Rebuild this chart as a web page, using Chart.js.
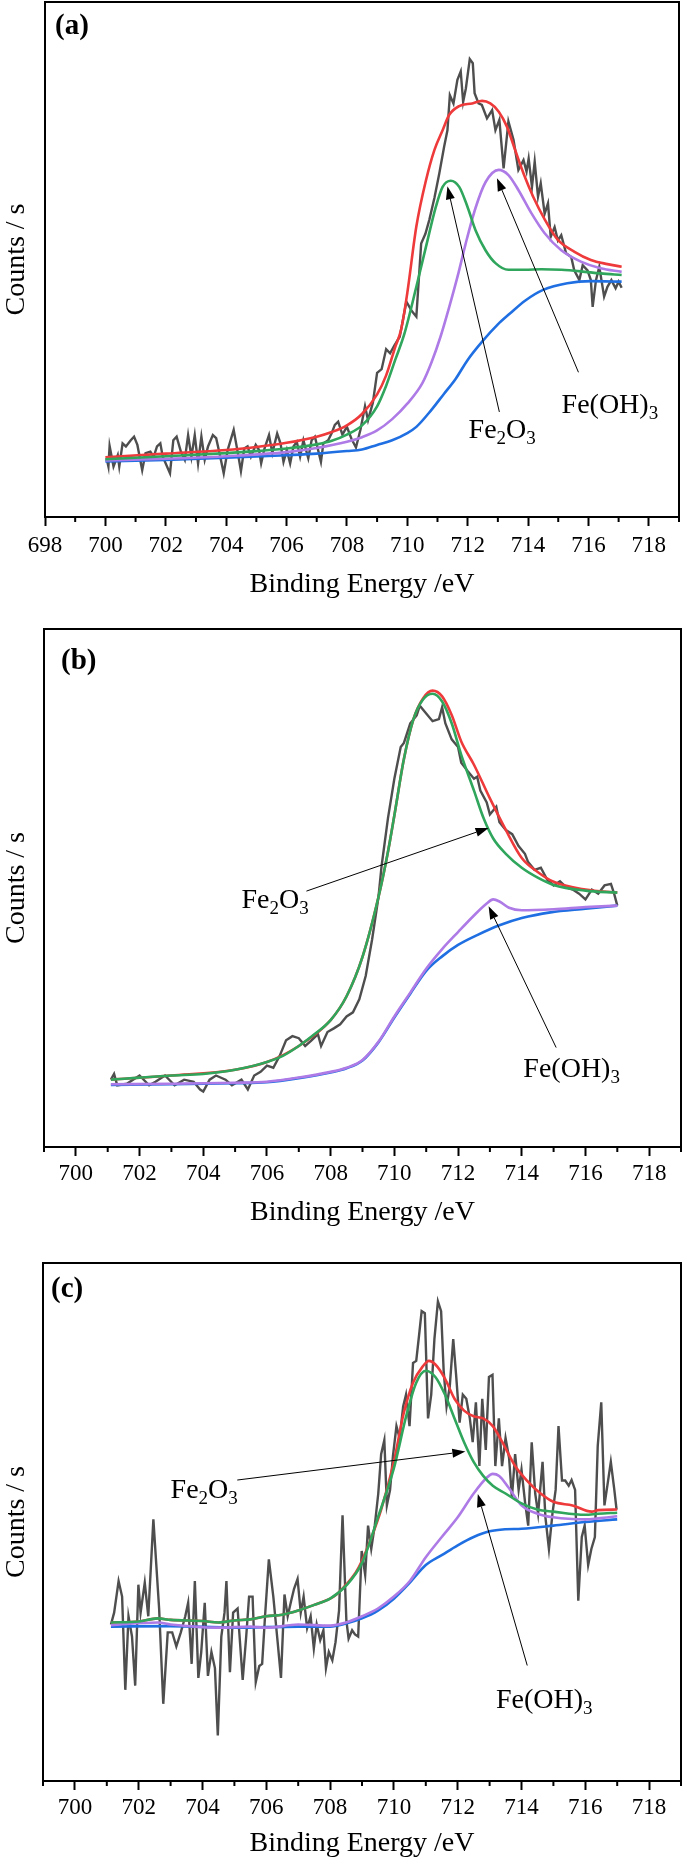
<!DOCTYPE html>
<html>
<head>
<meta charset="utf-8">
<script src="https://cdn.jsdelivr.net/npm/chart.js@4.4.1/dist/chart.umd.min.js"></script>
<style>
body { margin: 0; background: #fff; }
canvas { display: block; }
</style>
</head>
<body>
<canvas id="chart_a" width="685" height="620"></canvas>
<canvas id="chart_b" width="685" height="620"></canvas>
<canvas id="chart_c" width="685" height="620"></canvas>
<script>
// ---- Panel (a) ----
var a_raw_e = [700.04, 700.1, 700.14, 700.27, 700.41, 700.46, 700.57, 700.68, 700.84, 700.95, 701.06, 701.22, 701.33, 701.49, 701.6, 701.71, 701.82, 701.9, 702.14, 702.25, 702.36, 702.5, 702.63, 702.74, 702.85, 702.96, 703.07, 703.18, 703.29, 703.4, 703.56, 703.67, 703.78, 703.92, 704.05, 704.25, 704.38, 704.49, 704.6, 704.71, 704.82, 704.98, 705.09, 705.16, 705.27, 705.42, 705.53, 705.69, 705.8, 705.9, 706.01, 706.12, 706.23, 706.34, 706.45, 706.56, 706.72, 706.83, 706.94, 707.14, 707.22, 707.38, 707.49, 707.6, 707.71, 707.85, 708.0, 708.15, 708.3, 708.45, 708.6, 708.7, 708.86, 709.0, 709.15, 709.3, 709.43, 709.57, 709.75, 709.97, 710.15, 710.3, 710.46, 710.6, 710.73, 710.9, 711.06, 711.22, 711.33, 711.41, 711.53, 711.66, 711.77, 711.85, 711.94, 712.07, 712.17, 712.23, 712.36, 712.47, 712.64, 712.81, 712.92, 713.05, 713.19, 713.35, 713.52, 713.68, 713.85, 713.95, 714.02, 714.13, 714.22, 714.33, 714.42, 714.55, 714.66, 714.75, 714.88, 714.99, 715.1, 715.26, 715.43, 715.53, 715.7, 715.81, 715.97, 716.08, 716.14, 716.25, 716.36, 716.52, 716.63, 716.76, 716.9, 717.0, 717.1];
var a_raw_i = [11.4, 9.8, 13.8, 9.8, 12.0, 9.8, 14.3, 13.7, 14.9, 15.6, 14.0, 9.1, 12.4, 12.7, 11.7, 13.7, 14.3, 11.7, 8.5, 14.9, 15.6, 12.7, 11.1, 15.9, 11.7, 15.9, 10.4, 15.6, 11.1, 13.7, 15.9, 15.3, 12.4, 8.5, 13.0, 16.9, 12.7, 8.9, 13.3, 13.7, 11.7, 14.0, 13.0, 10.4, 13.3, 15.9, 12.4, 16.2, 14.3, 10.7, 13.0, 10.4, 13.7, 14.6, 11.7, 14.9, 11.4, 14.9, 15.6, 10.7, 14.3, 14.9, 16.2, 17.9, 18.5, 16.0, 17.5, 15.2, 13.5, 17.0, 21.5, 18.8, 22.2, 28.0, 28.7, 32.6, 31.8, 33.3, 35.0, 41.8, 40.0, 38.9, 53.1, 55.0, 57.7, 62.0, 66.7, 71.9, 75.1, 81.9, 80.3, 84.9, 86.5, 80.6, 83.2, 88.9, 88.1, 82.3, 80.3, 80.0, 77.4, 79.0, 75.1, 77.1, 67.7, 76.8, 73.2, 67.4, 69.3, 67.1, 69.6, 64.1, 69.0, 62.2, 64.8, 58.9, 60.9, 54.4, 56.3, 53.7, 54.7, 51.2, 50.5, 47.9, 46.0, 48.9, 47.9, 46.0, 40.8, 46.0, 48.6, 42.8, 44.7, 46.0, 44.4, 45.7, 44.5];
var a_env_e = [700.0, 702.0, 704.0, 705.0, 706.0, 707.0, 707.5, 708.0, 708.5, 709.0, 709.3, 709.6, 709.8, 710.0, 710.3, 710.62, 710.9, 711.17, 711.39, 711.72, 712.15, 712.48, 712.75, 713.03, 713.3, 713.57, 713.85, 714.17, 714.56, 714.99, 715.54, 716.08, 716.63, 717.1];
var a_env_i = [11.6, 12.3, 13.0, 13.6, 14.4, 15.6, 16.5, 17.8, 20.0, 23.8, 27.5, 33.0, 36.5, 43.5, 56.4, 65.4, 71.3, 75.1, 78.1, 79.8, 80.3, 80.8, 80.3, 78.7, 75.8, 71.3, 66.7, 62.2, 57.7, 53.8, 51.5, 49.9, 49.1, 48.6];
var a_fe2o3_e = [700.0, 702.0, 704.0, 705.0, 706.0, 707.0, 707.5, 708.0, 708.5, 709.0, 709.3, 709.6, 709.9, 710.3, 710.62, 710.95, 711.17, 711.44, 711.72, 711.99, 712.26, 712.59, 712.92, 713.35, 713.9, 714.44, 715.1, 715.75, 716.4, 717.1];
var a_fe2o3_i = [11.2, 11.8, 12.4, 12.8, 13.3, 14.1, 14.8, 16.0, 17.8, 21.5, 25.5, 30.5, 35.5, 44.7, 52.5, 60.3, 64.1, 65.3, 64.1, 60.3, 55.7, 51.8, 49.3, 48.0, 48.0, 48.1, 48.0, 47.7, 47.3, 47.0];
var a_feoh3_e = [700.0, 702.0, 704.0, 706.0, 707.0, 708.0, 708.5, 709.0, 709.5, 710.0, 710.5, 710.8, 711.1, 711.4, 711.7, 711.93, 712.26, 712.59, 713.03, 713.35, 713.68, 714.11, 714.55, 715.1, 715.75, 716.4, 717.1];
var a_feoh3_i = [11.0, 11.3, 11.8, 12.6, 13.4, 14.6, 15.5, 16.8, 19.0, 22.0, 26.0, 30.0, 35.0, 41.0, 47.5, 53.0, 60.0, 65.0, 67.4, 66.4, 63.5, 59.0, 55.1, 51.8, 49.6, 48.3, 47.6];
var a_bg_e = [700.0, 702.0, 704.0, 706.0, 707.0, 708.0, 708.5, 709.0, 709.5, 710.0, 710.3, 710.8, 711.2, 711.6, 712.0, 712.5, 713.0, 713.4, 713.9, 714.5, 715.3, 716.1, 717.1];
var a_bg_i = [10.8, 11.1, 11.5, 12.0, 12.3, 12.8, 13.1, 14.0, 14.9, 16.3, 17.5, 20.8, 23.8, 26.8, 30.5, 34.2, 37.4, 39.5, 42.0, 44.1, 45.4, 45.8, 45.7];

// ---- Panel (b) ----
var b_raw_e = [701.1, 701.2, 701.3, 701.6, 702.0, 702.3, 702.5, 702.8, 703.1, 703.4, 703.7, 703.9, 704.0, 704.2, 704.4, 704.7, 704.9, 705.2, 705.4, 705.6, 705.8, 706.0, 706.2, 706.4, 706.6, 706.8, 707.0, 707.2, 707.4, 707.6, 707.7, 707.9, 708.1, 708.3, 708.5, 708.7, 708.9, 709.1, 709.3, 709.5, 709.6, 709.8, 710.0, 710.2, 710.3, 710.5, 710.7, 710.8, 711.0, 711.2, 711.4, 711.5, 711.6, 711.8, 712.0, 712.1, 712.3, 712.5, 712.6, 712.7, 712.9, 713.0, 713.2, 713.3, 713.5, 713.7, 713.9, 714.1, 714.2, 714.4, 714.6, 714.8, 715.0, 715.2, 715.4, 715.6, 715.8, 716.0, 716.2, 716.4, 716.6, 716.8, 716.9, 717.0];
var b_raw_i = [13.0, 14.1, 11.9, 12.2, 13.8, 11.9, 12.6, 13.8, 11.9, 13.0, 12.6, 11.1, 10.7, 13.0, 13.8, 13.0, 11.9, 13.0, 11.1, 13.8, 14.5, 15.7, 15.3, 17.6, 20.6, 21.4, 21.0, 19.5, 20.6, 21.8, 19.5, 22.2, 22.9, 23.7, 25.2, 26.0, 28.5, 33.0, 40.0, 48.2, 54.3, 63.5, 71.1, 77.2, 78.0, 81.8, 83.3, 85.2, 83.7, 82.2, 82.6, 84.9, 81.8, 78.7, 77.2, 74.2, 72.6, 71.1, 71.5, 68.8, 66.5, 64.2, 65.7, 62.7, 61.2, 60.4, 58.1, 56.6, 55.0, 53.5, 53.9, 51.6, 50.5, 51.3, 50.1, 49.7, 48.9, 47.8, 49.7, 48.9, 50.5, 50.8, 48.9, 46.6];
var b_env_e = [701.1, 703.0, 705.0, 706.0, 707.0, 708.0, 708.5, 709.0, 709.5, 709.8, 710.0, 710.3, 710.6, 710.9, 711.2, 711.5, 711.8, 712.1, 712.5, 713.0, 713.5, 714.0, 714.5, 715.0, 716.0, 717.0];
var b_env_i = [13.0, 13.8, 14.9, 16.4, 19.5, 24.5, 29.1, 36.7, 48.2, 57.0, 64.0, 74.9, 82.6, 86.6, 88.1, 87.0, 83.4, 78.3, 73.8, 67.3, 61.2, 55.8, 53.1, 51.2, 49.7, 49.1];
var b_fe2o3_e = [701.1, 702.0, 703.0, 704.0, 705.0, 706.0, 706.5, 707.0, 707.5, 708.0, 708.5, 709.0, 709.5, 709.8, 710.0, 710.3, 710.6, 710.9, 711.2, 711.5, 711.8, 712.1, 712.5, 712.8, 713.1, 713.5, 714.0, 714.5, 715.0, 716.0, 717.0];
var b_fe2o3_i = [13.0, 13.4, 13.8, 14.1, 14.9, 16.4, 17.6, 19.5, 21.8, 24.5, 29.1, 36.7, 48.2, 57.0, 64.0, 74.9, 82.6, 86.4, 87.5, 86.0, 81.8, 75.7, 68.8, 63.5, 59.6, 56.6, 53.9, 52.0, 50.6, 49.5, 49.1];
var b_feoh3_e = [701.1, 703.0, 705.0, 706.0, 707.0, 708.0, 708.5, 709.0, 709.5, 710.0, 710.5, 711.0, 711.5, 712.0, 712.5, 712.9, 713.1, 713.3, 713.6, 714.0, 715.0, 716.0, 717.0];
var b_feoh3_i = [12.1, 12.2, 12.4, 12.6, 13.4, 14.5, 15.3, 16.8, 20.3, 25.2, 29.8, 34.4, 38.2, 41.5, 44.7, 47.0, 47.8, 47.4, 46.2, 45.7, 45.9, 46.3, 46.6];
var b_bg_e = [701.1, 703.0, 705.0, 706.0, 707.0, 708.0, 708.5, 709.0, 709.5, 710.0, 710.5, 711.0, 711.5, 712.0, 712.6, 713.3, 714.0, 714.9, 716.0, 717.0];
var b_bg_i = [12.0, 12.1, 12.3, 12.5, 13.3, 14.4, 15.2, 16.7, 20.2, 25.0, 29.6, 34.0, 36.8, 39.0, 40.9, 42.8, 44.2, 45.3, 46.0, 46.6];

// ---- Panel (c) ----
var c_raw_e = [701.13, 701.23, 701.37, 701.48, 701.58, 701.68, 701.79, 701.89, 701.99, 702.06, 702.19, 702.3, 702.46, 702.64, 702.77, 702.91, 703.05, 703.18, 703.32, 703.46, 703.55, 703.66, 703.76, 703.87, 703.96, 704.07, 704.17, 704.28, 704.39, 704.48, 704.59, 704.69, 704.75, 704.86, 704.96, 705.1, 705.26, 705.37, 705.46, 705.57, 705.67, 705.78, 705.87, 705.96, 706.08, 706.22, 706.35, 706.46, 706.57, 706.67, 706.78, 706.87, 706.98, 707.08, 707.17, 707.28, 707.39, 707.49, 707.58, 707.69, 707.79, 707.87, 707.96, 708.07, 708.17, 708.28, 708.39, 708.51, 708.58, 708.69, 708.78, 708.88, 708.99, 709.1, 709.19, 709.29, 709.4, 709.51, 709.6, 709.7, 709.78, 709.88, 709.97, 710.08, 710.18, 710.29, 710.38, 710.49, 710.6, 710.7, 710.79, 710.87, 710.97, 711.07, 711.17, 711.27, 711.38, 711.48, 711.56, 711.65, 711.75, 711.86, 711.95, 712.06, 712.16, 712.27, 712.38, 712.47, 712.57, 712.68, 712.77, 712.88, 712.98, 713.09, 713.18, 713.29, 713.39, 713.5, 713.61, 713.7, 713.8, 713.91, 714.0, 714.11, 714.21, 714.32, 714.43, 714.52, 714.66, 714.75, 714.86, 714.97, 715.07, 715.16, 715.27, 715.37, 715.48, 715.57, 715.68, 715.78, 715.89, 715.98, 716.09, 716.19, 716.3, 716.39, 716.5, 716.6, 716.71, 716.8, 716.91, 716.98];
var c_raw_i = [30.2, 32.5, 38.6, 35.6, 17.6, 31.8, 27.9, 18.4, 37.9, 32.5, 38.3, 31.8, 50.5, 33.3, 14.9, 28.7, 28.7, 26.0, 28.7, 31.8, 34.4, 22.6, 38.6, 19.9, 24.9, 34.4, 20.3, 24.9, 21.8, 8.8, 27.9, 32.5, 38.6, 21.0, 32.5, 33.3, 19.5, 27.9, 35.6, 35.6, 19.1, 22.2, 22.6, 31.8, 42.8, 35.6, 27.2, 19.9, 36.0, 31.8, 34.8, 37.1, 39.0, 32.5, 35.6, 29.5, 31.8, 25.6, 30.2, 27.2, 29.1, 21.8, 24.9, 23.3, 26.8, 32.9, 51.3, 31.0, 27.5, 29.1, 28.3, 27.9, 44.4, 39.8, 49.3, 44.8, 49.3, 55.5, 63.1, 65.8, 53.2, 56.2, 62.7, 68.5, 66.2, 72.3, 74.6, 68.5, 80.7, 81.1, 86.1, 90.7, 90.3, 70.0, 74.6, 85.3, 92.6, 90.7, 79.2, 72.3, 76.1, 85.3, 78.4, 69.2, 74.6, 73.8, 70.0, 65.4, 73.1, 60.8, 73.8, 63.9, 78.0, 78.4, 60.8, 70.0, 60.8, 66.2, 62.4, 54.7, 63.1, 56.2, 60.1, 53.9, 49.3, 65.4, 55.5, 51.6, 61.6, 50.9, 44.8, 51.6, 56.2, 68.5, 58.0, 58.0, 57.0, 58.1, 56.2, 34.8, 47.1, 49.3, 41.7, 44.8, 47.1, 64.7, 73.1, 53.2, 57.8, 61.6, 56.2, 52.4];
var c_env_e = [701.13, 702.0, 702.6, 703.0, 704.0, 704.5, 705.0, 705.5, 706.0, 706.5, 707.0, 707.5, 708.0, 708.2, 708.5, 708.8, 709.0, 709.3, 709.6, 710.0, 710.3, 710.6, 710.9, 711.1, 711.3, 711.6, 711.9, 712.2, 712.5, 712.8, 713.1, 713.4, 713.8, 714.2, 714.6, 715.0, 715.6, 716.2, 716.4, 717.0];
var c_env_i = [30.6, 30.8, 31.4, 31.1, 30.9, 30.6, 31.0, 31.2, 31.8, 32.1, 32.9, 34.0, 35.2, 36.0, 37.9, 40.2, 42.5, 47.1, 52.4, 61.6, 70.8, 76.9, 80.0, 81.1, 80.4, 77.7, 73.8, 71.5, 70.4, 70.0, 68.5, 65.4, 60.8, 57.8, 55.5, 53.9, 53.2, 52.0, 52.3, 52.4];
var c_fe2o3_e = [701.13, 702.0, 702.6, 703.0, 704.0, 704.5, 705.0, 705.5, 706.0, 706.5, 707.0, 707.5, 708.0, 708.5, 709.0, 709.5, 710.0, 710.4, 710.7, 711.0, 711.3, 711.6, 711.9, 712.2, 712.5, 712.8, 713.1, 713.5, 714.0, 714.5, 715.0, 716.0, 716.4, 717.0];
var c_fe2o3_i = [30.6, 30.8, 31.4, 31.1, 30.9, 30.6, 31.0, 31.2, 31.8, 32.1, 32.9, 34.0, 35.2, 37.7, 42.1, 50.9, 60.4, 70.8, 76.9, 79.2, 78.0, 74.6, 70.0, 65.4, 61.6, 58.9, 57.0, 55.5, 53.6, 52.4, 52.0, 51.4, 51.6, 51.8];
var c_feoh3_e = [701.13, 702.6, 703.0, 704.5, 705.5, 706.0, 707.0, 708.0, 708.5, 709.0, 709.5, 710.0, 710.5, 711.0, 711.5, 712.0, 712.5, 712.9, 713.1, 713.3, 713.6, 714.0, 714.5, 715.0, 716.0, 716.4, 717.0];
var c_feoh3_i = [30.1, 30.6, 30.2, 29.6, 29.8, 29.6, 30.2, 30.0, 30.6, 31.8, 33.3, 35.6, 38.6, 43.2, 47.1, 50.9, 55.5, 58.5, 59.3, 58.9, 56.6, 53.2, 51.6, 50.9, 50.5, 50.7, 51.1];
var c_bg_e = [701.13, 703.0, 705.0, 707.0, 708.0, 708.5, 709.0, 709.5, 710.0, 710.5, 711.0, 711.5, 712.0, 712.5, 713.0, 713.5, 714.0, 715.0, 716.0, 717.0];
var c_bg_i = [29.8, 29.9, 29.6, 29.8, 29.8, 30.4, 31.4, 32.9, 35.2, 38.3, 41.7, 43.6, 45.5, 47.1, 48.2, 48.6, 48.7, 49.3, 50.0, 50.5];

// Peak labels: text parts, text anchor [eV, counts], arrow from, arrow to
var FE2O3 = [['Fe', 0], ['2', 1], ['O', 0], ['3', 1]];
var FEOH3 = [['Fe(OH)', 0], ['3', 1]];
var a_notes = [
    { parts: FE2O3, at: [712.03, 15.3], from: [713.05, 20.4], to: [711.33, 64.2] },
    { parts: FEOH3, at: [715.11, 20.2], from: [715.67, 28.1], to: [712.97, 65.8] }
];
var b_notes = [
    { parts: FE2O3, at: [705.2, 46.1], from: [707.24, 49.4], to: [712.96, 61.6] },
    { parts: FEOH3, at: [714.05, 13.5], from: [715.08, 19.2], to: [712.96, 46.5] }
];
var c_notes = [
    { parts: FE2O3, at: [703.0, 54.6], from: [705.09, 58.1], to: [712.24, 63.6] },
    { parts: FEOH3, at: [713.2, 14.1], from: [714.18, 22.3], to: [712.63, 55.4] }
];

var SERIF = '"Liberation Serif", "Times New Roman", serif';
Chart.defaults.font.family = SERIF;
Chart.defaults.color = '#000';

function pts(xs, ys) {
    return xs.map(function(x, i) { return { x: x, y: ys[i] }; });
}

function line(xs, ys, color, smooth) {
    var ds = {
        data: pts(xs, ys),
        showLine: true,
        borderColor: color,
        borderWidth: smooth ? 2.6 : 2.4,
        pointRadius: 0,
        fill: false
    };
    if (smooth) ds.cubicInterpolationMode = 'monotone';
    return ds;
}

// frame, minor ticks, panel tag and peak labels
function framePlugin(tag, tagDx, tagDy, notes) {
    return {
        id: 'frame_' + tag,
        afterDraw: function(chart) {
            var ctx = chart.ctx;
            var area = chart.chartArea;
            var xs = chart.scales.x;
            var ys = chart.scales.y;
            ctx.save();
            ctx.strokeStyle = '#000';
            ctx.fillStyle = '#000';
            ctx.lineWidth = 2;
            ctx.strokeRect(area.left, area.top, area.right - area.left, area.bottom - area.top);

            // minor ticks at odd eV
            for (var v = Math.ceil(xs.min); v <= xs.max; v++) {
                if (v % 2 === 0) continue;
                var px = xs.getPixelForValue(v);
                ctx.beginPath();
                ctx.moveTo(px, area.bottom);
                ctx.lineTo(px, area.bottom + 5);
                ctx.stroke();
            }

            ctx.font = 'bold 29px ' + SERIF;
            ctx.textBaseline = 'middle';
            ctx.fillText(tag, area.left + tagDx, area.top + tagDy);

            notes.forEach(function(n) {
                var x0 = xs.getPixelForValue(n.from[0]), y0 = ys.getPixelForValue(n.from[1]);
                var x1 = xs.getPixelForValue(n.to[0]), y1 = ys.getPixelForValue(n.to[1]);
                var ang = Math.atan2(y1 - y0, x1 - x0);
                var head = 13, half = 4.5;
                var bx = x1 - head * Math.cos(ang), by = y1 - head * Math.sin(ang);
                ctx.lineWidth = 1;
                ctx.beginPath();
                ctx.moveTo(x0, y0);
                ctx.lineTo(bx, by);
                ctx.stroke();
                ctx.beginPath();
                ctx.moveTo(x1, y1);
                ctx.lineTo(bx + half * Math.sin(ang), by - half * Math.cos(ang));
                ctx.lineTo(bx - half * Math.sin(ang), by + half * Math.cos(ang));
                ctx.closePath();
                ctx.fill();

                var tx = xs.getPixelForValue(n.at[0]), ty = ys.getPixelForValue(n.at[1]);
                ctx.textBaseline = 'alphabetic';
                n.parts.forEach(function(p) {
                    ctx.font = (p[1] ? '19px ' : '28px ') + SERIF;
                    ctx.fillText(p[0], tx, ty + (p[1] ? 6 : 0));
                    tx += ctx.measureText(p[0]).width;
                });
            });
            ctx.restore();
        }
    };
}

function drawPanel(id, d, geo) {
    // Get Chart Data
    var objData = {
        datasets: [
            line(d.fe2o3[0], d.fe2o3[1], '#2fa65c', true),
            line(d.feoh3[0], d.feoh3[1], '#ad7ae6', true),
            line(d.bg[0], d.bg[1], '#1f6fe2', true),
            line(d.env[0], d.env[1], '#ee3a3a', true),
            line(d.raw[0], d.raw[1], '#4e4e4e', false)
        ]
    };

    // Config Options
    var objOptions = {
        responsive: false,
        animation: false,
        events: [],
        layout: { padding: { top: geo.top, right: geo.right, left: 0, bottom: 0 } },
        plugins: { legend: { display: false }, tooltip: { enabled: false } },
        scales: {
            x: {
                type: 'linear',
                min: geo.xmin,
                max: 719,
                ticks: {
                    stepSize: 1,
                    autoSkip: false,
                    maxRotation: 0,
                    padding: geo.tickPad,
                    color: '#000',
                    font: { size: 23 },
                    callback: function(v) { return v % 2 === 0 ? String(v) : ''; }
                },
                grid: {
                    display: true,
                    drawOnChartArea: false,
                    drawTicks: true,
                    tickLength: 9,
                    tickWidth: 2,
                    tickColor: function(c) { return c.tick && c.tick.value % 2 === 0 ? '#000' : 'rgba(0,0,0,0)'; }
                },
                border: { display: false },
                title: { display: true, text: 'Binding Energy /eV', color: '#000', font: { size: 28 }, padding: { top: 0, bottom: geo.titlePad } },
                afterFit: function(s) { s.height = geo.xh; }
            },
            y: {
                type: 'linear',
                min: 0,
                max: 100,
                ticks: { display: false },
                grid: { display: false },
                border: { display: false },
                title: { display: true, text: 'Counts / s', color: '#000', font: { size: 28 }, padding: 0 },
                afterFit: function(s) { s.width = geo.yw; }
            }
        }
    };

    // Draw Chart
    var elChart = document.getElementById(id);
    return new Chart(elChart, {
        type: 'scatter',
        data: objData,
        options: objOptions,
        plugins: [framePlugin(geo.tag, geo.tagDx, geo.tagDy, d.notes)]
    });
}

drawPanel('chart_a', {
    raw: [a_raw_e, a_raw_i], env: [a_env_e, a_env_i], fe2o3: [a_fe2o3_e, a_fe2o3_i],
    feoh3: [a_feoh3_e, a_feoh3_i], bg: [a_bg_e, a_bg_i], notes: a_notes
}, { tag: '(a)', tagDx: 10, tagDy: 25, xmin: 698, top: 2, right: 1, yw: 45, xh: 103, tickPad: 6, titlePad: 19 });

drawPanel('chart_b', {
    raw: [b_raw_e, b_raw_i], env: [b_env_e, b_env_i], fe2o3: [b_fe2o3_e, b_fe2o3_i],
    feoh3: [b_feoh3_e, b_feoh3_i], bg: [b_bg_e, b_bg_i], notes: b_notes
}, { tag: '(b)', tagDx: 17, tagDy: 33, xmin: 699, top: 9, right: 1, yw: 44, xh: 93, tickPad: 4, titlePad: 11 });

drawPanel('chart_c', {
    raw: [c_raw_e, c_raw_i], env: [c_env_e, c_env_i], fe2o3: [c_fe2o3_e, c_fe2o3_i],
    feoh3: [c_feoh3_e, c_feoh3_i], bg: [c_bg_e, c_bg_i], notes: c_notes
}, { tag: '(c)', tagDx: 8, tagDy: 27, xmin: 699, top: 23, right: 2, yw: 43, xh: 79, tickPad: 4, titlePad: 0 });
</script>
</body>
</html>
